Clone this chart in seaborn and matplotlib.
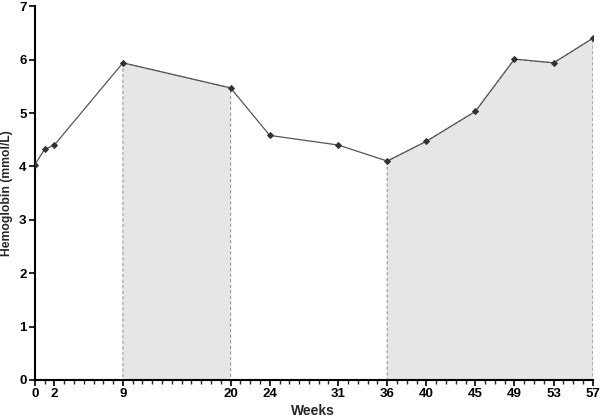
import numpy as np
import pandas as pd
import matplotlib
matplotlib.use("Agg")
import matplotlib.pyplot as plt
import seaborn as sns

# ------------------------------------------------------------------
# data
# ------------------------------------------------------------------
weeks = [0, 1, 2, 9, 20, 24, 31, 36, 40, 45, 49, 53, 57]
hemoglobin = [4.03, 4.32, 4.40, 5.94, 5.47, 4.58, 4.40, 4.10, 4.47, 5.03, 6.01, 5.94, 6.40]
tick_weeks = [0, 2, 9, 20, 24, 31, 36, 40, 45, 49, 53, 57]
shaded_periods = [(9, 20), (36, 57)]

df = pd.DataFrame({"week": weeks, "hb": hemoglobin})

sns.set_theme(style="ticks")
plt.rcParams["font.family"] = ["Liberation Sans", "DejaVu Sans"]

fig = plt.figure(figsize=(6, 4.17), dpi=100)
ax = fig.add_axes([0.058, 0.089, 0.930, 0.896])

# grey shaded treatment periods
for start, end in shaded_periods:
    sub = df[(df.week >= start) & (df.week <= end)]
    ax.fill_between(sub.week, 0, sub.hb, facecolor="#e6e6e6",
                    edgecolor="#999999", linestyle=(0, (3, 2)), linewidth=0.8, zorder=1)

sns.lineplot(data=df, x="week", y="hb", ax=ax, color="#555555", linewidth=0.9,
             marker="D", markersize=3.0, markeredgecolor="#333333",
             markerfacecolor="#333333", zorder=3)

ax.set_xlim(0, 57)
ax.set_ylim(0, 7)
ax.set_xticks(tick_weeks)
ax.set_xticks(range(0, 58), minor=True)
ax.set_yticks(range(0, 8))
ax.tick_params(axis="both", which="major", labelsize=9.5, length=4, width=1.2, colors="black", pad=2)
ax.tick_params(axis="x", which="minor", length=3, width=1.0)
for lbl in ax.get_xticklabels() + ax.get_yticklabels():
    lbl.set_fontweight("bold")

ax.set_xlabel("Weeks", fontsize=10, fontweight="bold")
ax.set_ylabel("Hemoglobin (mmol/L)", fontsize=8.7, fontweight="bold")
ax.xaxis.set_label_coords(0.498, -0.065)
ax.yaxis.set_label_coords(-0.039, 0.5)

for side in ["top", "right"]:
    ax.spines[side].set_visible(False)
for side in ["left", "bottom"]:
    ax.spines[side].set_linewidth(1.5)
    ax.spines[side].set_color("black")

fig.savefig("out.png", dpi=100)
